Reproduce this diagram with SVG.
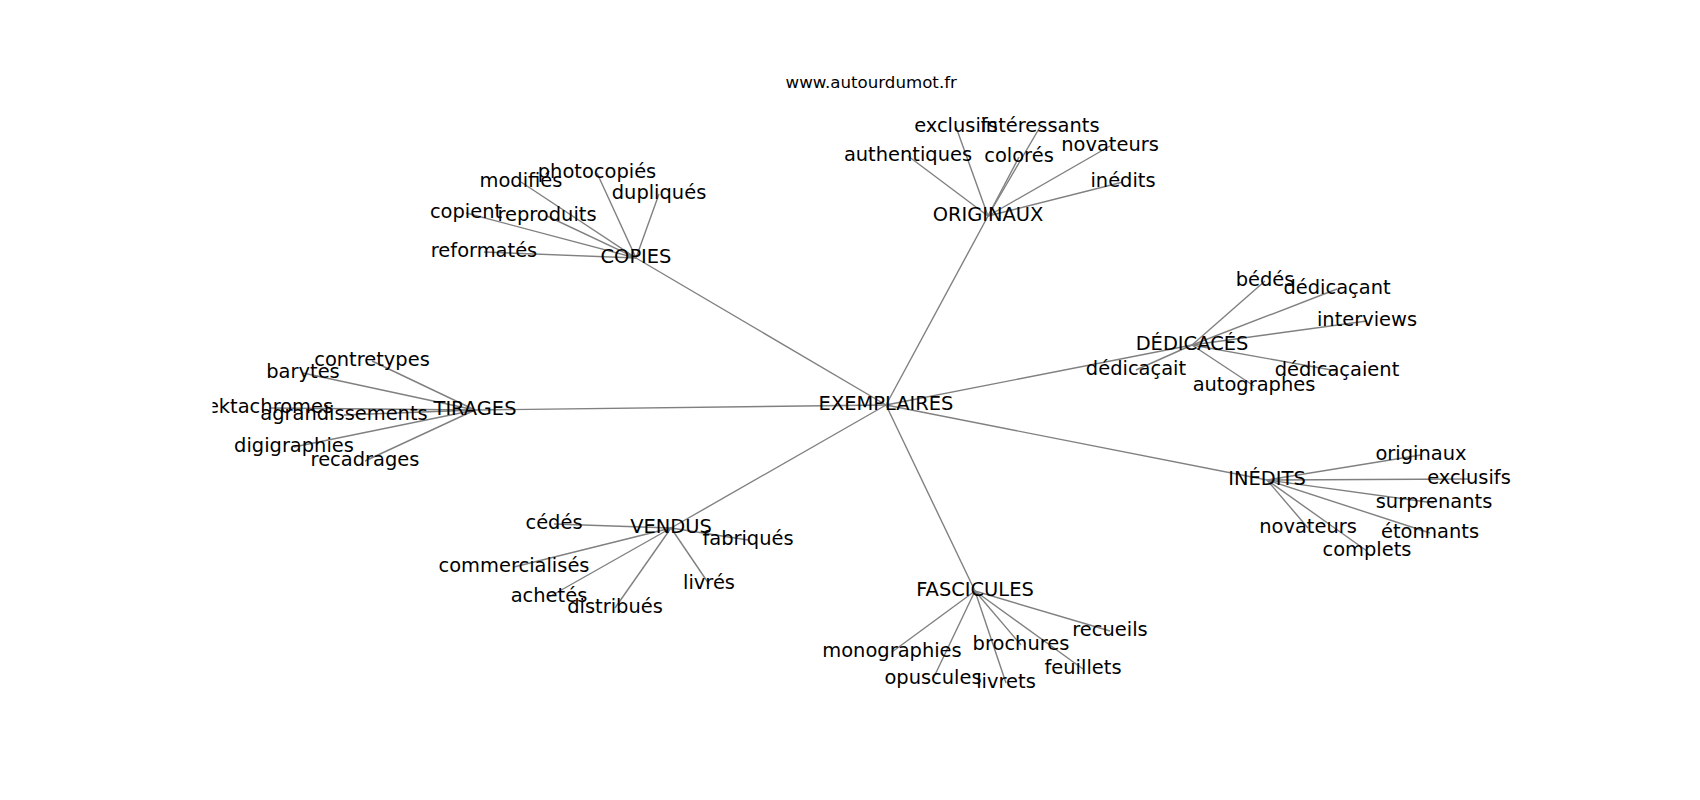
<svg xmlns="http://www.w3.org/2000/svg" width="1700" height="800" viewBox="0 0 1700 800">
<style>
.e{stroke:#808080;stroke-width:1.4;fill:none}
.t{font-family:"DejaVu Sans",sans-serif;font-size:19.44px;fill:#000;text-anchor:middle}
.ttl{font-family:"DejaVu Sans",sans-serif;font-size:16.67px;fill:#000;text-anchor:middle}
</style>
<defs><clipPath id="ax"><rect x="212.5" y="96" width="1317.5" height="616"/></clipPath></defs>
<rect width="1700" height="800" fill="#fff"/>
<text class="ttl" x="871.25" y="87.5">www.autourdumot.fr</text>
<g id="connectors" class="e">
<line x1="886" y1="405" x2="636" y2="258"/>
<line x1="886" y1="405" x2="988" y2="216"/>
<line x1="886" y1="405" x2="475" y2="410"/>
<line x1="886" y1="405" x2="1192" y2="345"/>
<line x1="886" y1="405" x2="1267" y2="480"/>
<line x1="886" y1="405" x2="671" y2="528"/>
<line x1="886" y1="405" x2="975" y2="591"/>
<line x1="636" y1="258" x2="484" y2="252"/>
<line x1="636" y1="258" x2="466" y2="213"/>
<line x1="636" y1="258" x2="547" y2="216"/>
<line x1="636" y1="258" x2="521" y2="182"/>
<line x1="636" y1="258" x2="597" y2="173"/>
<line x1="636" y1="258" x2="659" y2="194"/>
<line x1="988" y1="216" x2="908" y2="156"/>
<line x1="988" y1="216" x2="956" y2="127"/>
<line x1="988" y1="216" x2="1040" y2="127"/>
<line x1="988" y1="216" x2="1019" y2="157"/>
<line x1="988" y1="216" x2="1110" y2="146"/>
<line x1="988" y1="216" x2="1123" y2="182"/>
<line x1="475" y1="410" x2="372" y2="361"/>
<line x1="475" y1="410" x2="303" y2="373"/>
<line x1="475" y1="410" x2="270" y2="408"/>
<line x1="475" y1="410" x2="344" y2="415"/>
<line x1="475" y1="410" x2="294" y2="447"/>
<line x1="475" y1="410" x2="365" y2="461"/>
<line x1="1192" y1="345" x2="1265" y2="281"/>
<line x1="1192" y1="345" x2="1337" y2="289"/>
<line x1="1192" y1="345" x2="1367" y2="321"/>
<line x1="1192" y1="345" x2="1136" y2="370"/>
<line x1="1192" y1="345" x2="1254" y2="386"/>
<line x1="1192" y1="345" x2="1337" y2="371"/>
<line x1="1267" y1="480" x2="1421" y2="455"/>
<line x1="1267" y1="480" x2="1469" y2="479"/>
<line x1="1267" y1="480" x2="1434" y2="503"/>
<line x1="1267" y1="480" x2="1308" y2="528"/>
<line x1="1267" y1="480" x2="1430" y2="533"/>
<line x1="1267" y1="480" x2="1367" y2="551"/>
<line x1="671" y1="528" x2="554" y2="524"/>
<line x1="671" y1="528" x2="748" y2="540"/>
<line x1="671" y1="528" x2="514" y2="567"/>
<line x1="671" y1="528" x2="549" y2="597"/>
<line x1="671" y1="528" x2="615" y2="608"/>
<line x1="671" y1="528" x2="709" y2="584"/>
<line x1="975" y1="591" x2="1110" y2="631"/>
<line x1="975" y1="591" x2="1021" y2="645"/>
<line x1="975" y1="591" x2="892" y2="652"/>
<line x1="975" y1="591" x2="1083" y2="669"/>
<line x1="975" y1="591" x2="933" y2="679"/>
<line x1="975" y1="591" x2="1006" y2="683"/>
</g>
<g clip-path="url(#ax)">
<g id="n-exemplaires"><text class="t" x="886" y="410">EXEMPLAIRES</text></g>
<g id="n-copies"><text class="t" x="636" y="263">COPIES</text></g>
<g id="n-reformates"><text class="t" x="484" y="257">reformatés</text></g>
<g id="n-copient"><text class="t" x="466" y="218">copient</text></g>
<g id="n-reproduits"><text class="t" x="547" y="221">reproduits</text></g>
<g id="n-modifies"><text class="t" x="521" y="187">modifiés</text></g>
<g id="n-photocopies"><text class="t" x="597" y="178">photocopiés</text></g>
<g id="n-dupliques"><text class="t" x="659" y="199">dupliqués</text></g>
<g id="n-originaux"><text class="t" x="988" y="221">ORIGINAUX</text></g>
<g id="n-authentiques"><text class="t" x="908" y="161">authentiques</text></g>
<g id="n-exclusifs1"><text class="t" x="956" y="132">exclusifs</text></g>
<g id="n-interessants"><text class="t" x="1040" y="132">intéressants</text></g>
<g id="n-colores"><text class="t" x="1019" y="162">colorés</text></g>
<g id="n-novateurs1"><text class="t" x="1110" y="151">novateurs</text></g>
<g id="n-inedits1"><text class="t" x="1123" y="187">inédits</text></g>
<g id="n-tirages"><text class="t" x="475" y="415">TIRAGES</text></g>
<g id="n-contretypes"><text class="t" x="372" y="366">contretypes</text></g>
<g id="n-barytes"><text class="t" x="303" y="378">barytes</text></g>
<g id="n-ektachromes"><text class="t" x="270" y="413">ektachromes</text></g>
<g id="n-agrandissements"><text class="t" x="344" y="420">agrandissements</text></g>
<g id="n-digigraphies"><text class="t" x="294" y="452">digigraphies</text></g>
<g id="n-recadrages"><text class="t" x="365" y="466">recadrages</text></g>
<g id="n-dedicaces"><text class="t" x="1192" y="350">DÉDICACÉS</text></g>
<g id="n-bedes"><text class="t" x="1265" y="286">bédés</text></g>
<g id="n-dedicacant"><text class="t" x="1337" y="294">dédicaçant</text></g>
<g id="n-interviews"><text class="t" x="1367" y="326">interviews</text></g>
<g id="n-dedicacait"><text class="t" x="1136" y="375">dédicaçait</text></g>
<g id="n-autographes"><text class="t" x="1254" y="391">autographes</text></g>
<g id="n-dedicacaient"><text class="t" x="1337" y="376">dédicaçaient</text></g>
<g id="n-inedits"><text class="t" x="1267" y="485">INÉDITS</text></g>
<g id="n-originaux2"><text class="t" x="1421" y="460">originaux</text></g>
<g id="n-exclusifs2"><text class="t" x="1469" y="484">exclusifs</text></g>
<g id="n-surprenants"><text class="t" x="1434" y="508">surprenants</text></g>
<g id="n-novateurs2"><text class="t" x="1308" y="533">novateurs</text></g>
<g id="n-etonnants"><text class="t" x="1430" y="538">étonnants</text></g>
<g id="n-complets"><text class="t" x="1367" y="556">complets</text></g>
<g id="n-vendus"><text class="t" x="671" y="533">VENDUS</text></g>
<g id="n-cedes"><text class="t" x="554" y="529">cédés</text></g>
<g id="n-fabriques"><text class="t" x="748" y="545">fabriqués</text></g>
<g id="n-commercialises"><text class="t" x="514" y="572">commercialisés</text></g>
<g id="n-achetes"><text class="t" x="549" y="602">achetés</text></g>
<g id="n-distribues"><text class="t" x="615" y="613">distribués</text></g>
<g id="n-livres"><text class="t" x="709" y="589">livrés</text></g>
<g id="n-fascicules"><text class="t" x="975" y="596">FASCICULES</text></g>
<g id="n-recueils"><text class="t" x="1110" y="636">recueils</text></g>
<g id="n-brochures"><text class="t" x="1021" y="650">brochures</text></g>
<g id="n-monographies"><text class="t" x="892" y="657">monographies</text></g>
<g id="n-feuillets"><text class="t" x="1083" y="674">feuillets</text></g>
<g id="n-opuscules"><text class="t" x="933" y="684">opuscules</text></g>
<g id="n-livrets"><text class="t" x="1006" y="688">livrets</text></g>
</g>
</svg>
